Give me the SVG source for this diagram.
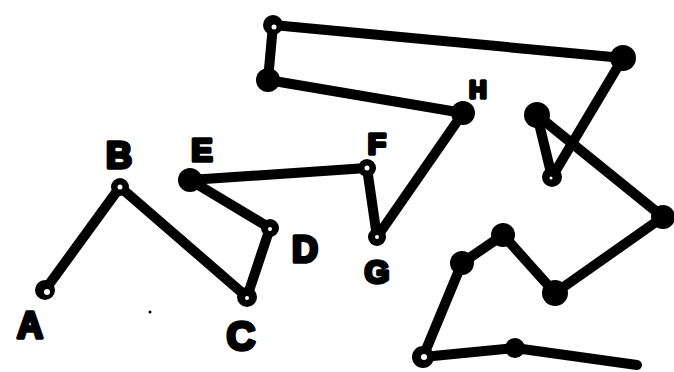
<svg xmlns="http://www.w3.org/2000/svg" width="674" height="372" viewBox="0 0 674 372">
<style>
.e{stroke:#000;stroke-width:10;stroke-linecap:round;fill:none}
.n{fill:#000}
.h{fill:#fff}
.t{font-family:"Liberation Sans",Arial,sans-serif;font-weight:bold;font-size:36px;fill:#000;stroke:#000;stroke-width:3.5;stroke-linejoin:round;text-anchor:middle}
</style>
<rect width="674" height="372" fill="#fff"/>
<g id="connectors">
<line class="e" x1="45" y1="290" x2="120" y2="187"/>
<line class="e" x1="120" y1="187" x2="247" y2="297"/>
<line class="e" x1="247" y1="297" x2="270" y2="228"/>
<line class="e" x1="270" y1="228" x2="190" y2="180"/>
<line class="e" x1="190" y1="180" x2="367" y2="168"/>
<line class="e" x1="367" y1="168" x2="377" y2="237"/>
<line class="e" x1="377" y1="237" x2="463" y2="113"/>
<line class="e" x1="463" y1="113" x2="268" y2="80"/>
<line class="e" x1="268" y1="80" x2="273" y2="25"/>
<line class="e" x1="273" y1="25" x2="623" y2="58"/>
<line class="e" x1="623" y1="58" x2="552" y2="177"/>
<line class="e" x1="552" y1="177" x2="537" y2="115"/>
<line class="e" x1="537" y1="115" x2="663" y2="217"/>
<line class="e" x1="663" y1="217" x2="555" y2="293"/>
<line class="e" x1="555" y1="293" x2="503" y2="235"/>
<line class="e" x1="503" y1="235" x2="462" y2="263"/>
<line class="e" x1="462" y1="263" x2="423" y2="357"/>
<line class="e" x1="423" y1="357" x2="515" y2="348"/>
<line class="e" x1="515" y1="348" x2="637" y2="365"/>
</g>
<g id="A"><circle class="n" cx="45" cy="290" r="10"/><circle class="h" cx="47" cy="292" r="3"/><text class="t" x="30" y="338">A</text></g>
<g id="B"><circle class="n" cx="120" cy="187" r="9"/><circle class="h" cx="120" cy="187" r="2.5"/><text class="t" x="119" y="168">B</text></g>
<g id="C"><circle class="n" cx="247" cy="297" r="10"/><circle class="h" cx="247" cy="298" r="2"/><text class="t" x="241" y="350" style="font-size:40px">C</text></g>
<g id="D"><circle class="n" cx="270" cy="228" r="9"/><circle class="h" cx="270" cy="229" r="2"/><text class="t" x="305" y="262">D</text></g>
<g id="E"><circle class="n" cx="190" cy="180" r="12"/><text class="t" x="202" y="161" style="font-size:32px">E</text></g>
<g id="F"><circle class="n" cx="367" cy="168" r="9"/><circle class="h" cx="367" cy="168" r="2.5"/><text class="t" x="377" y="154" style="font-size:30px">F</text></g>
<g id="G"><circle class="n" cx="377" cy="237" r="9"/><circle class="h" cx="377" cy="237" r="2"/><text class="t" x="377" y="283" style="font-size:32px">G</text></g>
<g id="H"><circle class="n" cx="463" cy="113" r="12"/><text class="t" x="478" y="98" style="font-size:24px">H</text></g>
<g id="n1"><circle class="n" cx="268" cy="80" r="12"/></g>
<g id="n2"><circle class="n" cx="273" cy="25" r="10"/><circle class="h" cx="274" cy="27" r="2.5"/></g>
<g id="n3"><circle class="n" cx="623" cy="58" r="13"/></g>
<g id="n4"><circle class="n" cx="552" cy="177" r="10"/><circle class="h" cx="551" cy="178" r="1.5"/></g>
<g id="n5"><circle class="n" cx="537" cy="115" r="13"/></g>
<g id="n6"><circle class="n" cx="663" cy="217" r="12"/></g>
<g id="n7"><circle class="n" cx="555" cy="293" r="13"/></g>
<g id="n8"><circle class="n" cx="503" cy="235" r="12"/></g>
<g id="n9"><circle class="n" cx="462" cy="263" r="12"/></g>
<g id="n10"><circle class="n" cx="423" cy="357" r="11"/><circle class="h" cx="424" cy="357" r="3"/></g>
<g id="n11"><circle class="n" cx="515" cy="348" r="10"/></g>
<circle class="n" cx="150" cy="312" r="1.5"/>
</svg>
